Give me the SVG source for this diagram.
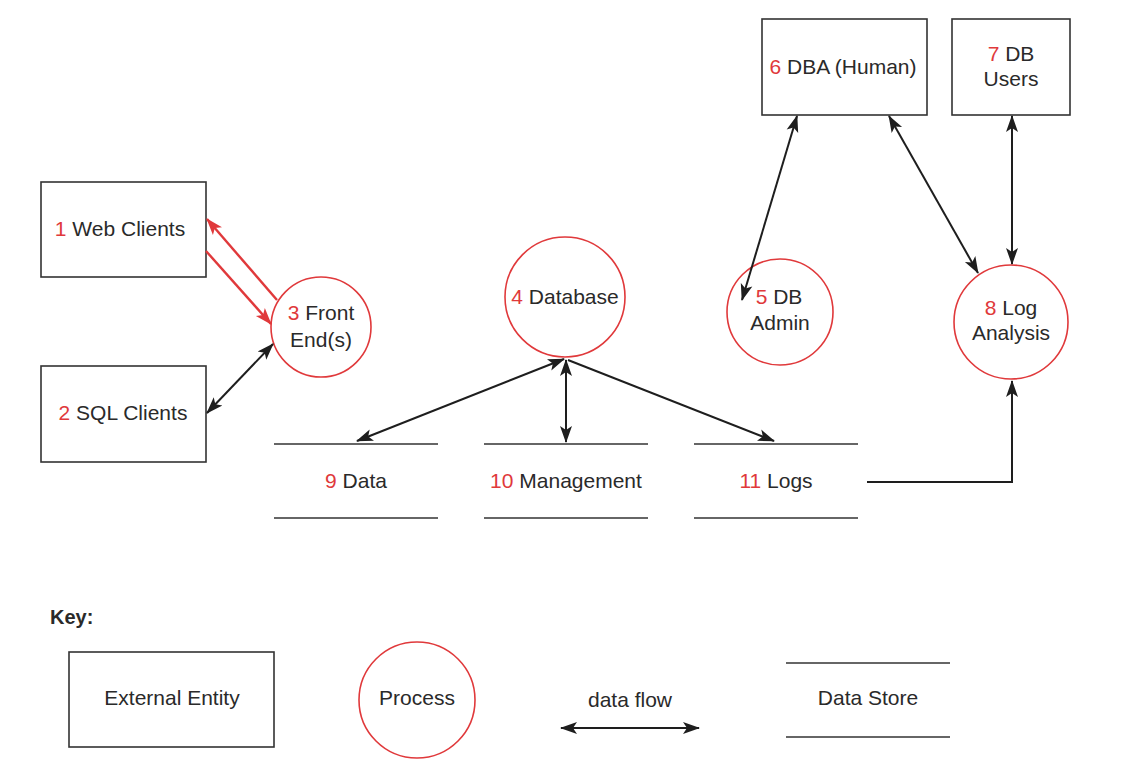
<svg xmlns="http://www.w3.org/2000/svg" width="1140" height="774" viewBox="0 0 1140 774">
<style>
text{font-family:"Liberation Sans",Arial,sans-serif;font-size:21px;fill:#2a2a2a;text-anchor:middle}
.n{fill:#e0393b}
.box{fill:#fff;stroke:#333;stroke-width:1.6}
.proc{fill:#fff;stroke:#e0393b;stroke-width:1.6}
.store{stroke:#333;stroke-width:1.6}
.flow{fill:none;stroke:#1e1e1e;stroke-width:2}
.red{fill:none;stroke:#e0393b;stroke-width:2.4}
.key{font-weight:bold;text-anchor:start;font-size:20px}
</style>
<defs>
<marker id="ah" markerUnits="userSpaceOnUse" markerWidth="18" markerHeight="14" refX="16" refY="6" orient="auto-start-reverse" viewBox="0 0 18 12">
<path d="M0,0 L17,6 L0,12 L4,6 z" fill="#1e1e1e"/>
</marker>
<marker id="ahr" markerUnits="userSpaceOnUse" markerWidth="18" markerHeight="14" refX="16" refY="6" orient="auto-start-reverse" viewBox="0 0 18 12">
<path d="M0,0 L17,6 L0,12 L4,6 z" fill="#e0393b"/>
</marker>
</defs>
<rect width="1140" height="774" fill="#fff"/>

<g id="n1"><rect class="box" x="41" y="182" width="165" height="95"/><text x="120" y="236"><tspan class="n">1</tspan> Web Clients</text></g>
<g id="n2"><rect class="box" x="41" y="366" width="165" height="96"/><text x="123" y="420"><tspan class="n">2</tspan> SQL Clients</text></g>
<g id="n3"><circle class="proc" cx="321" cy="327" r="50"/><text x="321" y="320"><tspan class="n">3</tspan> Front</text><text x="321" y="347">End(s)</text></g>
<g id="n4"><circle class="proc" cx="565" cy="297" r="60"/><text x="565" y="304"><tspan class="n">4</tspan> Database</text></g>
<g id="n5"><circle class="proc" cx="780" cy="312" r="53"/><text x="779" y="304"><tspan class="n">5</tspan> DB</text><text x="780" y="330">Admin</text></g>
<g id="n6"><rect class="box" x="762" y="19" width="165" height="96"/><text x="843" y="74"><tspan class="n">6</tspan> DBA (Human)</text></g>
<g id="n7"><rect class="box" x="952" y="19" width="118" height="96"/><text x="1011" y="61"><tspan class="n">7</tspan> DB</text><text x="1011" y="86">Users</text></g>
<g id="n8"><circle class="proc" cx="1011" cy="322" r="57"/><text x="1011" y="315"><tspan class="n">8</tspan> Log</text><text x="1011" y="340">Analysis</text></g>
<g id="n9"><line class="store" x1="274" y1="444" x2="438" y2="444"/><line class="store" x1="274" y1="518" x2="438" y2="518"/><text x="356" y="488"><tspan class="n">9</tspan> Data</text></g>
<g id="n10"><line class="store" x1="484" y1="444" x2="648" y2="444"/><line class="store" x1="484" y1="518" x2="648" y2="518"/><text x="566" y="488"><tspan class="n">10</tspan> Management</text></g>
<g id="n11"><line class="store" x1="694" y1="444" x2="858" y2="444"/><line class="store" x1="694" y1="518" x2="858" y2="518"/><text x="776" y="488"><tspan class="n">11</tspan> Logs</text></g>

<g id="connectors">
<line class="red" x1="277" y1="300" x2="207" y2="219" marker-end="url(#ahr)"/>
<line class="red" x1="206" y1="251" x2="271" y2="324" marker-end="url(#ahr)"/>
<line class="flow" x1="207" y1="413" x2="273" y2="344" marker-start="url(#ah)" marker-end="url(#ah)"/>
<line class="flow" x1="564" y1="359" x2="357" y2="441" marker-start="url(#ah)" marker-end="url(#ah)"/>
<line class="flow" x1="566" y1="360" x2="566" y2="442" marker-start="url(#ah)" marker-end="url(#ah)"/>
<line class="flow" x1="568" y1="360" x2="774" y2="441" marker-end="url(#ah)"/>
<line class="flow" x1="797" y1="116" x2="742" y2="300" marker-start="url(#ah)" marker-end="url(#ah)"/>
<line class="flow" x1="889" y1="116" x2="978" y2="273" marker-start="url(#ah)" marker-end="url(#ah)"/>
<line class="flow" x1="1012" y1="116" x2="1012" y2="264" marker-start="url(#ah)" marker-end="url(#ah)"/>
<polyline class="flow" points="867,482 1012,482 1012,381" marker-end="url(#ah)"/>
</g>

<g id="key">
<text class="key" x="50" y="624">Key:</text>
<rect class="box" x="69" y="652" width="205" height="95"/><text x="172" y="705">External Entity</text>
<circle class="proc" cx="417" cy="700" r="58"/><text x="417" y="705">Process</text>
<text x="630" y="707">data flow</text>
<line class="flow" x1="561" y1="728" x2="699" y2="728" marker-start="url(#ah)" marker-end="url(#ah)"/>
<line class="store" x1="786" y1="663" x2="950" y2="663"/><line class="store" x1="786" y1="737" x2="950" y2="737"/><text x="868" y="705">Data Store</text>
</g>
</svg>
